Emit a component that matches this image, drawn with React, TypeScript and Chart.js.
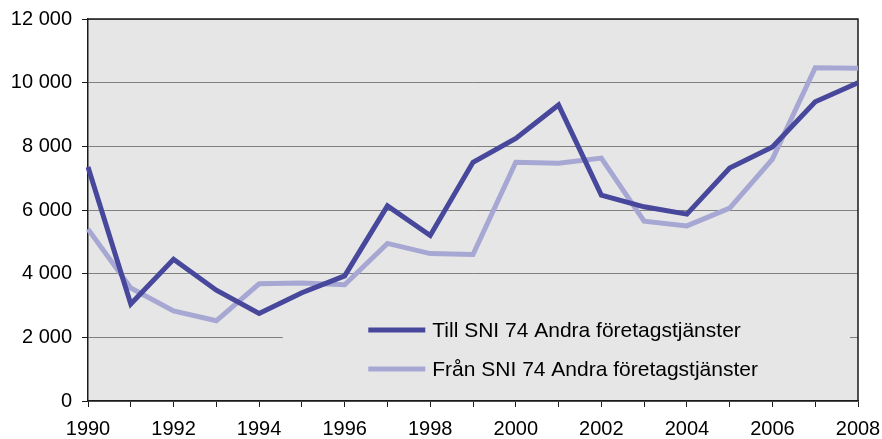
import React, { useEffect, useRef } from "react";
import { Chart, registerables } from "chart.js";

Chart.register(...registerables);

const years = ["1990","1991","1992","1993","1994","1995","1996","1997","1998","1999","2000","2001","2002","2003","2004","2005","2006","2007","2008"];
const tillValues = [7350, 3050, 4450, 3480, 2750, 3400, 3930, 6130, 5200, 7500, 8250, 9300, 6470, 6100, 5870, 7320, 7980, 9400, 10000];
const franValues = [5400, 3550, 2830, 2520, 3680, 3710, 3650, 4950, 4630, 4600, 7500, 7470, 7630, 5650, 5500, 6060, 7600, 10470, 10450];
const seriesLabels = ["Till SNI 74 Andra företagstjänster", "Från SNI 74 Andra företagstjänster"];
const yTicks = [0, 2000, 4000, 6000, 8000, 10000, 12000];

const BG = "#e6e6e6";
const DARK = "#47479b";
const LIGHT = "#a7a7d3";
const FONT = "'Liberation Sans', Arial, sans-serif";

function fmt(v: number) {
  return String(v).replace(/\B(?=(\d{3})+(?!\d))/g, " ");
}

const bgPlugin = {
  id: "bgPlugin",
  beforeDraw(chart: any) {
    const { ctx, chartArea: a } = chart;
    ctx.save();
    ctx.fillStyle = BG;
    ctx.fillRect(a.left, a.top, a.right - a.left, a.bottom - a.top);
    ctx.restore();
  },
  beforeDatasetsDraw(chart: any) {
    const { ctx, chartArea: a } = chart;
    const bx = a.left + (a.right - a.left) * 0.253;
    const bw = a.right - 8 - bx;
    const by = a.bottom - 92;
    const bh = 86;
    ctx.save();
    ctx.fillStyle = BG;
    ctx.fillRect(bx, by, bw, bh);
    ctx.strokeStyle = "#1a1a1a";
    ctx.lineWidth = 1.5;
    ctx.beginPath();
    ctx.moveTo(a.left, a.top);
    ctx.lineTo(a.right, a.top);
    ctx.lineTo(a.right, a.bottom);
    ctx.stroke();
    ctx.restore();
  },
  afterDraw(chart: any) {
    const { ctx, chartArea: a } = chart;
    const ds = chart.data.datasets;
    const lx = a.left + (a.right - a.left) * 0.364;
    const rows = [a.bottom - 71, a.bottom - 32];
    ctx.save();
    ds.forEach((d: any, i: number) => {
      const y = rows[i];
      ctx.strokeStyle = d.borderColor;
      ctx.lineWidth = 5;
      ctx.beginPath();
      ctx.moveTo(lx, y);
      ctx.lineTo(lx + 57, y);
      ctx.stroke();
      ctx.fillStyle = "#000";
      ctx.font = `21px ${FONT}`;
      ctx.textBaseline = "middle";
      ctx.textAlign = "left";
      ctx.fillText(d.label, lx + 64, y + 1);
    });
    ctx.restore();
  },
};

export default function App() {
  const ref = useRef<HTMLCanvasElement | null>(null);
  useEffect(() => {
    document.body.style.margin = "0";
    if (!ref.current) return;
    const chart = new Chart(ref.current, {
      type: "line",
      data: {
        labels: years,
        datasets: [
          { label: seriesLabels[0], data: tillValues, borderColor: DARK, borderWidth: 5, pointRadius: 0, tension: 0, fill: false },
          { label: seriesLabels[1], data: franValues, borderColor: LIGHT, borderWidth: 5, pointRadius: 0, tension: 0, fill: false },
        ],
      },
      options: {
        responsive: false,
        animation: false,
        layout: { padding: { top: 19, right: 24, left: 0, bottom: 0 } },
        plugins: { legend: { display: false }, tooltip: { enabled: false } },
        scales: {
          x: {
            type: "category",
            offset: false,
            grid: { drawOnChartArea: false, drawTicks: true, tickLength: 6, tickColor: "#1a1a1a" },
            border: { display: true, color: "#1a1a1a", width: 1.5 },
            ticks: {
              autoSkip: false,
              maxRotation: 0,
              color: "#000",
              font: { family: FONT, size: 20 },
              padding: 10,
              callback: (_v: any, i: number) => (i % 2 === 0 ? years[i] : ""),
            },
            afterFit: (s: any) => { s.height = 38; s.paddingLeft = 0; s.paddingRight = 0; },
          },
          y: {
            min: 0,
            max: 12000,
            afterBuildTicks: (s: any) => { s.ticks = yTicks.map((v) => ({ value: v })); },
            grid: { color: "#808080", lineWidth: 1, tickLength: 6, tickColor: "#1a1a1a" },
            border: { display: true, color: "#1a1a1a", width: 1.5 },
            ticks: {
              color: "#000",
              font: { family: FONT, size: 20 },
              padding: 10,
              callback: (v: any) => fmt(Number(v)),
            },
            afterFit: (s: any) => { s.width = 88; s.paddingTop = 0; s.paddingBottom = 0; },
          },
        },
      },
      plugins: [bgPlugin],
    });
    return () => chart.destroy();
  }, []);
  return <canvas ref={ref} width={882} height={439} style={{ display: "block" }} />;
}
